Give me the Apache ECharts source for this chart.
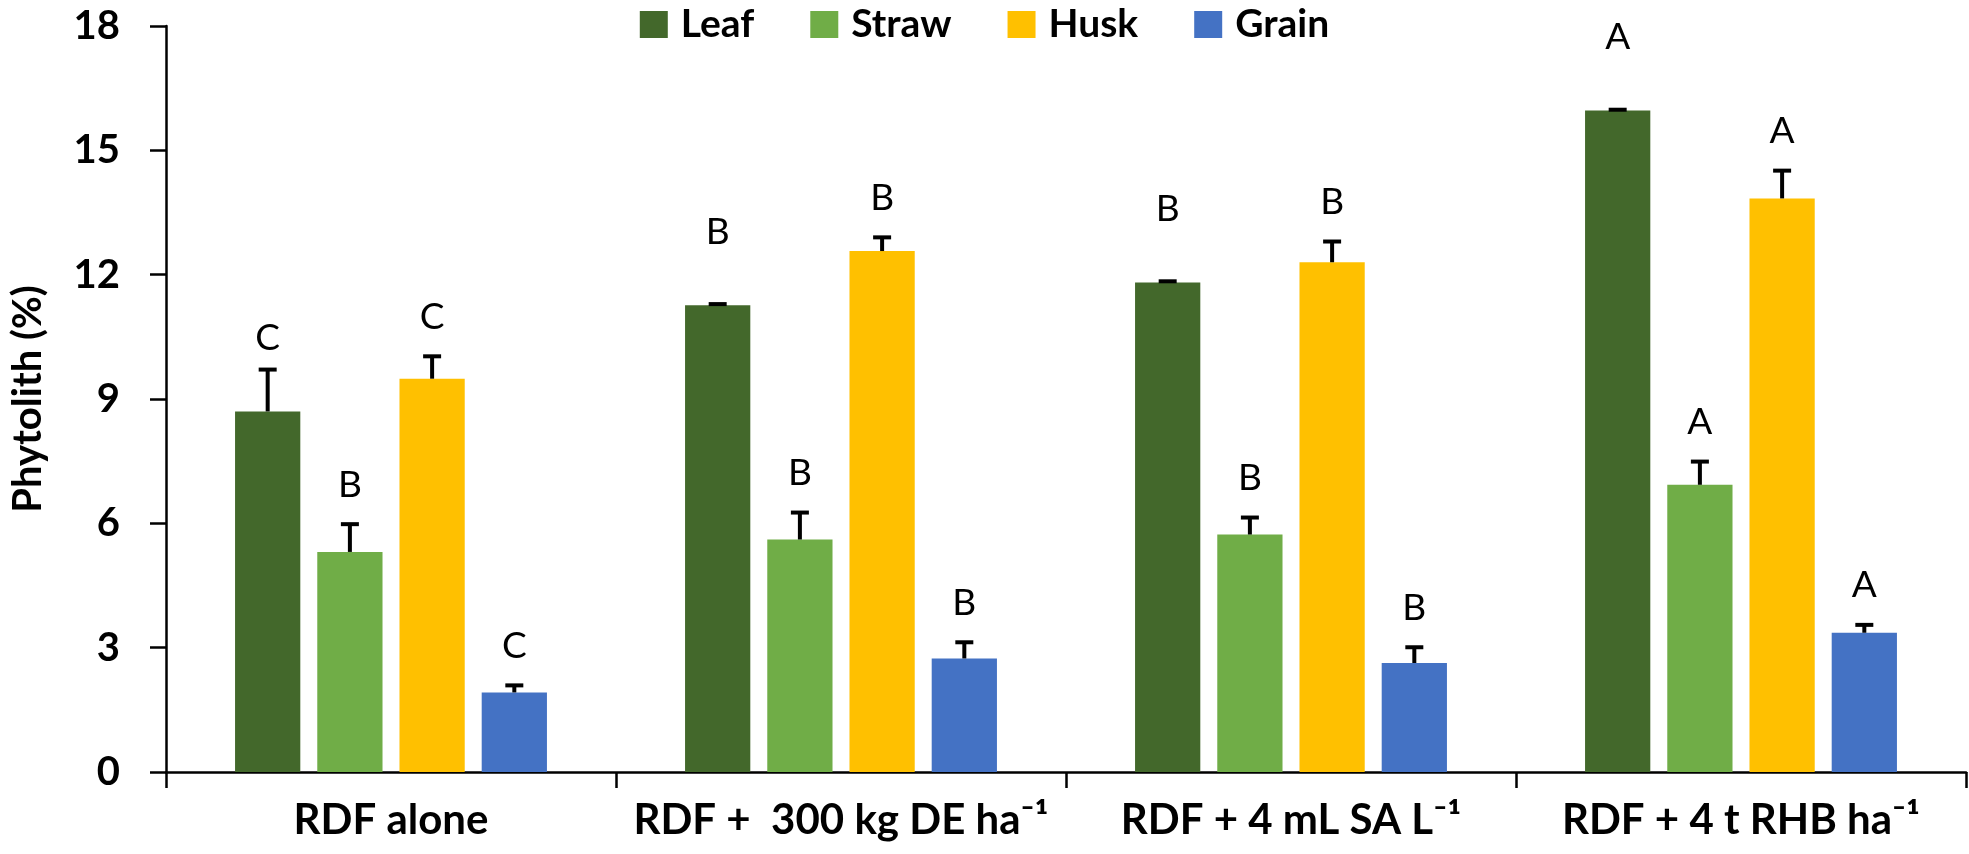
<!DOCTYPE html>
<html>
<head>
<meta charset="utf-8">
<title>Phytolith</title>
<script src="https://cdn.jsdelivr.net/npm/echarts@6/dist/echarts.min.js"></script>
<style>
  html, body { margin: 0; padding: 0; background: #fff; }
  #chart { width: 1969px; height: 854px; }
</style>
</head>
<body>
<div id="chart"></div>
<script>
// 处理组
var categories = ['RDF alone', 'RDF +  300 kg DE ha\u207B\u00B9', 'RDF + 4 mL SA L\u207B\u00B9', 'RDF + 4 t RHB ha\u207B\u00B9'];
var seriesNames = ['Leaf', 'Straw', 'Husk', 'Grain'];

// 各部位植硅体含量 (%)
var leaf = [8.70, 11.26, 11.81, 15.96];
var straw = [5.31, 5.61, 5.73, 6.93];
var husk = [9.49, 12.57, 12.30, 13.84];
var grain = [1.92, 2.74, 2.63, 3.36];

// 标准误
var leafErr = [1.01, 0.03, 0.03, 0.02];
var strawErr = [0.67, 0.65, 0.41, 0.56];
var huskErr = [0.54, 0.33, 0.50, 0.67];
var grainErr = [0.17, 0.39, 0.38, 0.19];

// 显著性字母
var leafLetters = ['C', 'B', 'B', 'A'];
var strawLetters = ['B', 'B', 'B', 'A'];
var huskLetters = ['C', 'B', 'B', 'A'];
var grainLetters = ['C', 'B', 'B', 'A'];

var yTicks = [0, 3, 6, 9, 12, 15, 18];

var colors = ['#43682B', '#70AD47', '#FFC000', '#4472C4'];
var FONT = 'Lato';

var values = [leaf, straw, husk, grain];
var errors = [leafErr, strawErr, huskErr, grainErr];
var letters = [leafLetters, strawLetters, huskLetters, grainLetters];

var myChart = echarts.init(document.getElementById('chart'));

var BAR_FRAC = 0.145;   // bar width / category width
var GAP_FRAC = 0.26;    // gap / bar width

// 误差线 + 字母
function errorSeries(s) {
    var data = values[s].map(function (v, i) { return [i, v, errors[s][i]]; });
    return {
        type: 'custom',
        name: seriesNames[s] + '-err',
        z: 5,
        silent: true,
        data: data,
        encode: { x: 0, y: 1 },
        renderItem: function (params, api) {
            var i = api.value(0), v = api.value(1), e = api.value(2);
            var base = api.coord([i, v]);
            var top = api.coord([i, v + e]);
            var band = api.size([1, 0])[0];
            var bw = band * BAR_FRAC;
            var x = base[0] + (s - 1.5) * bw * (1 + GAP_FRAC);
            var h = Math.max(base[1] - top[1], 0);
            var labelY = s === 0 ? base[1] - 55 : top[1] - 21;
            return {
                type: 'group',
                children: [
                    { type: 'rect', shape: { x: x - 2, y: top[1], width: 4, height: h }, style: { fill: '#000' } },
                    { type: 'rect', shape: { x: x - 9, y: top[1] - 2, width: 18, height: 4 }, style: { fill: '#000' } },
                    {
                        type: 'text',
                        style: {
                            text: letters[s][params.dataIndex],
                            x: x, y: labelY,
                            align: 'center', verticalAlign: 'bottom',
                            fontFamily: FONT, fontSize: 37, fill: '#000'
                        }
                    }
                ]
            };
        }
    };
}

var series = [];
for (var s = 0; s < 4; s++) {
    series.push({
        name: seriesNames[s],
        type: 'bar',
        data: values[s],
        barWidth: (BAR_FRAC * 100) + '%',
        barGap: (GAP_FRAC * 100) + '%',
        itemStyle: { color: colors[s] }
    });
}
for (var s2 = 0; s2 < 4; s2++) series.push(errorSeries(s2));

var option = {
    animation: false,
    backgroundColor: '#fff',
    legend: {
        data: seriesNames,
        top: 0,
        left: 'center',
        itemWidth: 28,
        itemHeight: 27,
        itemGap: 56,
        icon: 'rect',
        textStyle: { fontFamily: FONT, fontWeight: 'bold', fontSize: 39, color: '#000', padding: [0, 0, 0, 8] }
    },
    grid: { left: 144, right: 3, top: 26, bottom: 82, containLabel: false },
    xAxis: {
        type: 'category',
        data: categories,
        axisLine: { lineStyle: { color: '#000', width: 2.5 } },
        axisTick: { show: true, length: 16, lineStyle: { color: '#000', width: 2.5 } },
        axisLabel: { interval: 0, fontFamily: FONT, fontWeight: 'bold', fontSize: 42, color: '#000', margin: 27 },
        splitLine: { show: false }
    },
    yAxis: {
        type: 'value',
        min: yTicks[0],
        max: yTicks[yTicks.length - 1],
        interval: 3,
        name: 'Phytolith (%)',
        nameLocation: 'middle',
        nameRotate: 90,
        nameGap: 118,
        nameTextStyle: { fontFamily: FONT, fontWeight: 'bold', fontSize: 40, color: '#000' },
        axisLine: { show: true, lineStyle: { color: '#000', width: 2.5 } },
        axisTick: { show: true, length: 16, lineStyle: { color: '#000', width: 2.5 } },
        axisLabel: { fontFamily: FONT, fontWeight: 'bold', fontSize: 40, color: '#000', margin: 46 },
        splitLine: { show: false }
    },
    series: series
};

myChart.setOption(option);
window.addEventListener('resize', function () { myChart.resize(); });
</script>
</body>
</html>
